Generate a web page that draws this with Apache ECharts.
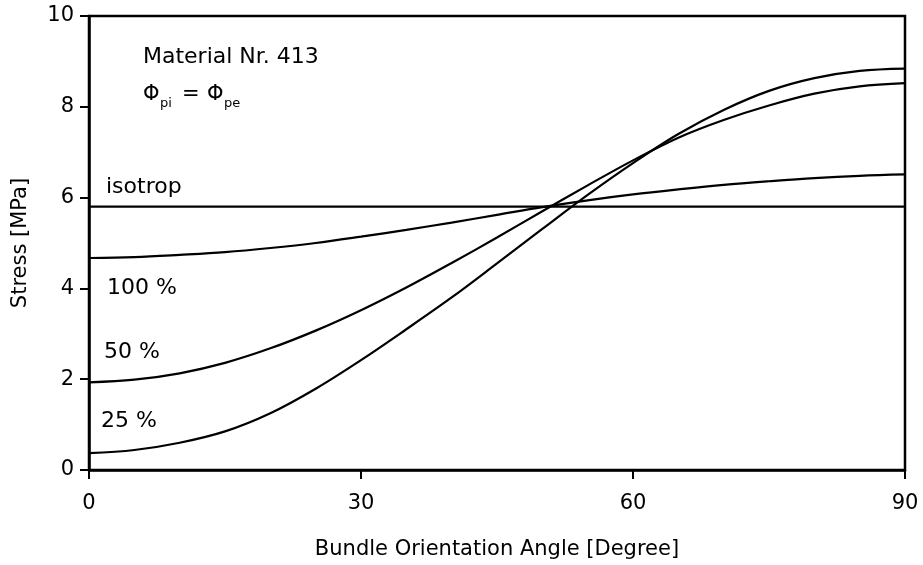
<!DOCTYPE html>
<html>
<head>
<meta charset="utf-8">
<script src="https://cdn.jsdelivr.net/npm/echarts@6/dist/echarts.min.js"></script>
<style>
html,body{margin:0;padding:0;background:#fff;}
#chart{width:923px;height:565px;}
</style>
</head>
<body>
<div id="chart"></div>
<script>
const angles = [0,5,10,15,20,25,30,35,40,45,50,55,60,65,70,75,80,85,90];
const isotrop = [5.8,5.8,5.8,5.8,5.8,5.8,5.8,5.8,5.8,5.8,5.8,5.8,5.8,5.8,5.8,5.8,5.8,5.8,5.8];
const pct100 = [4.67,4.69,4.74,4.80,4.89,5.00,5.14,5.29,5.45,5.62,5.79,5.94,6.07,6.18,6.28,6.36,6.43,6.48,6.51];
const pct50  = [1.93,1.99,2.13,2.36,2.68,3.07,3.52,4.02,4.56,5.12,5.70,6.27,6.82,7.32,7.71,8.03,8.29,8.45,8.52];
const pct25  = [0.37,0.44,0.60,0.85,1.25,1.79,2.42,3.10,3.80,4.55,5.31,6.06,6.76,7.40,7.93,8.35,8.63,8.79,8.84];
const xTicks = [0,30,60,90];
const yTicks = [0,2,4,6,8,10];
const seriesNames = ['isotrop','100 %','50 %','25 %'];

const FONT = 'DejaVu Sans';
function pairs(ys){ return angles.map((a,i)=>[a,ys[i]]); }
const allSeries = [isotrop,pct100,pct50,pct25].map((ys,i)=>({
  name: seriesNames[i],
  type:'line',
  data: pairs(ys),
  smooth: 0.35,
  showSymbol:false,
  lineStyle:{color:'#000',width:2.2},
  animation:false
}));

const chart = echarts.init(document.getElementById('chart'));
chart.setOption({
  animation:false,
  backgroundColor:'#fff',
  grid:{left:89,right:18,top:16,bottom:91,show:true,borderColor:'#000',borderWidth:2.5,backgroundColor:'transparent'},
  xAxis:{
    type:'value',min:0,max:90,interval:30,
    name:'Bundle Orientation Angle [Degree]',nameLocation:'middle',nameGap:69,
    nameTextStyle:{fontFamily:FONT,fontSize:21,color:'#000'},
    axisLine:{lineStyle:{color:'#000',width:2.5}},
    axisTick:{length:9,lineStyle:{color:'#000',width:2}},
    axisLabel:{fontFamily:FONT,fontSize:21,color:'#000',margin:23,
      formatter:v=>xTicks.includes(v)?String(v):''},
    splitLine:{show:false}
  },
  yAxis:{
    type:'value',min:0,max:10,interval:2,
    name:'Stress [MPa]',nameLocation:'middle',nameGap:58,
    nameTextStyle:{fontFamily:FONT,fontSize:21,color:'#000'},
    axisLine:{lineStyle:{color:'#000',width:2.5}},
    axisTick:{length:9,lineStyle:{color:'#000',width:2}},
    axisLabel:{fontFamily:FONT,fontSize:21,color:'#000',margin:15,
      formatter:v=>yTicks.includes(v)?String(v):''},
    splitLine:{show:false}
  },
  series: allSeries,
  graphic:[
    {type:'text',left:143,top:46,style:{text:'Material Nr. 413',font:'22px "DejaVu Sans"',fill:'#000'}},
    {type:'text',left:143,top:84,style:{text:'Φ',font:'21px "DejaVu Sans"',fill:'#000'}},
    {type:'text',left:160,top:97,style:{text:'pi',font:'13px "DejaVu Sans"',fill:'#000'}},
    {type:'text',left:182,top:84,style:{text:'=',font:'21px "DejaVu Sans"',fill:'#000'}},
    {type:'text',left:207,top:84,style:{text:'Φ',font:'21px "DejaVu Sans"',fill:'#000'}},
    {type:'text',left:224,top:97,style:{text:'pe',font:'13px "DejaVu Sans"',fill:'#000'}},
    {type:'text',left:106,top:176,style:{text:'isotrop',font:'22px "DejaVu Sans"',fill:'#000'}},
    {type:'text',left:107,top:277,style:{text:'100 %',font:'22px "DejaVu Sans"',fill:'#000'}},
    {type:'text',left:104,top:341,style:{text:'50 %',font:'22px "DejaVu Sans"',fill:'#000'}},
    {type:'text',left:101,top:410,style:{text:'25 %',font:'22px "DejaVu Sans"',fill:'#000'}}
  ]
});
</script>
</body>
</html>
